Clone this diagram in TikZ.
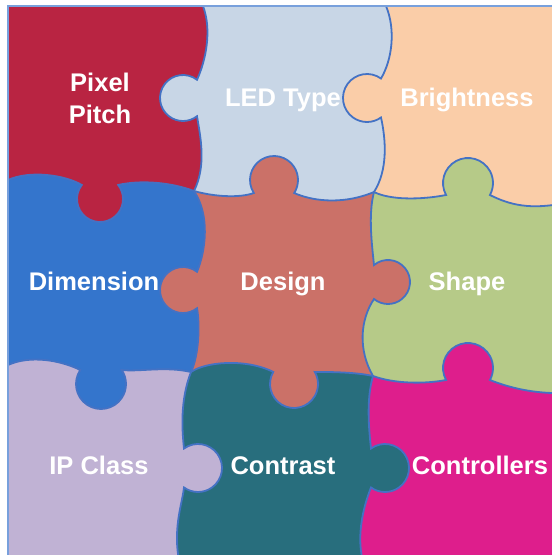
\documentclass[tikz,border=0pt]{standalone}
\usepackage{fontspec}
\setmainfont{Liberation Sans}

\definecolor{pitchred}{RGB}{185,36,66}
\definecolor{ledblue}{RGB}{200,214,230}
\definecolor{brightpeach}{RGB}{250,205,168}
\definecolor{dimblue}{RGB}{52,117,204}
\definecolor{designred}{RGB}{203,113,104}
\definecolor{shapegreen}{RGB}{182,202,136}
\definecolor{iplilac}{RGB}{192,178,212}
\definecolor{contrastteal}{RGB}{40,110,125}
\definecolor{ctrlmagenta}{RGB}{222,30,140}
\definecolor{seamblue}{RGB}{68,114,196}
\definecolor{borderblue}{RGB}{120,160,220}

% seams between the pieces, in pixels, y pointing down
\newcommand{\colA}{(203,-5) -- (203,6)
  .. controls (212,30) and (206,60) .. (197.03,79.78)
  arc[start angle=-52.4, end angle=-307.6, radius=23]
  .. controls (200,135) and (207,165) .. (194,191)
  .. controls (210,215) and (206,250) .. (197.03,271.78)
  arc[start angle=-52.4, end angle=-307.6, radius=23]
  .. controls (200,325) and (199,355) .. (191,372)
  .. controls (180,400) and (182,430) .. (184,448.51)
  arc[start angle=-125.7, end angle=125.7, radius=24]
  .. controls (182,505) and (172,530) .. (180,565)}
\newcommand{\colB}{(386,-5) -- (386,6)
  .. controls (396,30) and (392,60) .. (381,78.51)
  arc[start angle=-54.3, end angle=-305.7, radius=24]
  .. controls (386,140) and (388,170) .. (374,192)
  .. controls (368,215) and (372,245) .. (374,265.02)
  arc[start angle=-129.5, end angle=129.5, radius=22]
  .. controls (360,320) and (358,350) .. (373,376)
  .. controls (366,400) and (369,430) .. (371,448.51)
  arc[start angle=-125.7, end angle=125.7, radius=24]
  .. controls (362,510) and (356,540) .. (364,565)}
\newcommand{\rowA}{(-5,181) -- (8,180)
  .. controls (30,170) and (65,175) .. (81.78,184.97)
  arc[start angle=217.6, end angle=-37.6, radius=23]
  .. controls (140,180) and (170,182) .. (194,191)
  .. controls (215,197) and (240,198) .. (253.83,193)
  arc[start angle=147.2, end angle=392.8, radius=24]
  .. controls (310,200) and (340,206) .. (374,192)
  .. controls (390,200) and (420,200) .. (446.07,195)
  arc[start angle=151.3, end angle=388.7, radius=25]
  .. controls (510,205) and (530,210) .. (565,203)}
\newcommand{\rowB}{(-5,366) -- (8,365)
  .. controls (30,355) and (60,360) .. (80.3,369.98)
  arc[start angle=214.1, end angle=-34.1, radius=25]
  .. controls (140,372) and (165,366) .. (191,372)
  .. controls (205,362) and (245,358) .. (273.28,371.9)
  arc[start angle=210.3, end angle=-30.3, radius=24]
  .. controls (330,372) and (355,372) .. (373,376)
  .. controls (395,384) and (425,384) .. (446.07,380)
  arc[start angle=151.3, end angle=388.7, radius=25]
  .. controls (510,388) and (535,394) .. (565,393)}

% one side of a seam
\newcommand{\leftpart}[1]{\clip #1 -- (-50,565) -- (-50,-5) -- cycle;}
\newcommand{\rightpart}[1]{\clip #1 -- (600,565) -- (600,-5) -- cycle;}
\newcommand{\toppart}[1]{\clip #1 -- (565,-50) -- (-5,-50) -- cycle;}
\newcommand{\bottompart}[1]{\clip #1 -- (565,600) -- (-5,600) -- cycle;}

\tikzset{
  piece text/.style={text=white, font=\bfseries\fontsize{25.5}{32}\selectfont,
    align=center, inner sep=0pt},
  seam/.style={draw=seamblue, line width=1.8pt},
  border line/.style={draw=borderblue, line width=1.5pt},
}

\begin{document}
\begin{tikzpicture}[x=1pt, y=-1pt]
\useasboundingbox (0,0) rectangle (552,555);
\begin{scope}
  \clip (8,6) rectangle (600,600);

  \begin{scope}
    \leftpart{\colA} \toppart{\rowA}
    \fill[pitchred] (0,0) rectangle (600,600);
    \node[piece text] (pitch) at (100,98) {Pixel\\Pitch};
  \end{scope}
  \begin{scope}
    \rightpart{\colA} \leftpart{\colB} \toppart{\rowA}
    \fill[ledblue] (0,0) rectangle (600,600);
    \node[piece text, anchor=base] (led) at (283,106) {LED Type};
  \end{scope}
  \begin{scope}
    \rightpart{\colB} \toppart{\rowA}
    \fill[brightpeach] (0,0) rectangle (600,600);
    \node[piece text, anchor=base] (bright) at (467,106) {Brightness};
  \end{scope}

  \begin{scope}
    \leftpart{\colA} \bottompart{\rowA} \toppart{\rowB}
    \fill[dimblue] (0,0) rectangle (600,600);
    \node[piece text, anchor=base] (dim) at (94,290) {Dimension};
  \end{scope}
  \begin{scope}
    \rightpart{\colA} \leftpart{\colB} \bottompart{\rowA} \toppart{\rowB}
    \fill[designred] (0,0) rectangle (600,600);
    \node[piece text, anchor=base] (design) at (283,290) {Design};
  \end{scope}
  \begin{scope}
    \rightpart{\colB} \bottompart{\rowA} \toppart{\rowB}
    \fill[shapegreen] (0,0) rectangle (600,600);
    \node[piece text, anchor=base] (shape) at (467,290) {Shape};
  \end{scope}

  \begin{scope}
    \leftpart{\colA} \bottompart{\rowB}
    \fill[iplilac] (0,0) rectangle (600,600);
    \node[piece text, anchor=base] (ip) at (99,474) {IP Class};
  \end{scope}
  \begin{scope}
    \rightpart{\colA} \leftpart{\colB} \bottompart{\rowB}
    \fill[contrastteal] (0,0) rectangle (600,600);
    \node[piece text, anchor=base] (contrast) at (283,474) {Contrast};
  \end{scope}
  \begin{scope}
    \rightpart{\colB} \bottompart{\rowB}
    \fill[ctrlmagenta] (0,0) rectangle (600,600);
    \node[piece text, anchor=base] (ctrl) at (480,474) {Controllers};
  \end{scope}

  \draw[seam] \colA;
  \draw[seam] \colB;
  \draw[seam] \rowA;
  \draw[seam] \rowB;
\end{scope}
\draw[border line] (8,6) rectangle (600,600);
\end{tikzpicture}
\end{document}
